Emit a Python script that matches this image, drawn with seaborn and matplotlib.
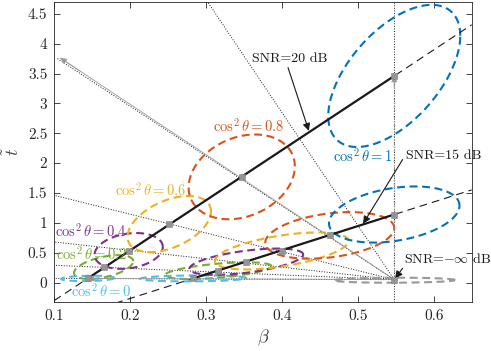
import numpy as np
import pandas as pd
import matplotlib
matplotlib.use('Agg')
import matplotlib.pyplot as plt
import matplotlib.ticker as mtick
import seaborn as sns

# cos^2(theta) levels and their colours
cos2_levels = [0, 0.2, 0.4, 0.6, 0.8, 1]
cos2_colors = ['#4DBEEE', '#77AC30', '#7E2F8E', '#EDB120', '#D95319', '#0072BD']

# operating points (one per cos^2 level)
beta_20 = [0.144, 0.165, 0.198, 0.2515, 0.347, 0.548]
t_20 = [0.07, 0.26, 0.53, 0.98, 1.77, 3.46]
beta_15 = [0.283, 0.316, 0.353, 0.3996, 0.463, 0.548]
t_15 = [0.07, 0.20, 0.35, 0.53, 0.79, 1.14]
beta_inf = 0.548
t_inf = 0.05

# ellipse half-widths (beta), half-heights (t) and tilt phase
ell20_wb = [0.035, 0.039, 0.045, 0.055, 0.070, 0.087]
ell20_wt = [0.045, 0.20, 0.30, 0.47, 0.71, 1.19]
ell20_ph = [1.40, 1.06, 1.35, 1.10, 1.32, 0.97]
ell15_wb = [0.070, 0.070, 0.075, 0.088, 0.085, 0.086]
ell15_wt = [0.05, 0.14, 0.22, 0.31, 0.39, 0.47]
ell15_ph = [1.45, 1.00, 1.00, 1.00, 1.25, 1.25]
ellinf_wb, ellinf_wt, ellinf_ph = 0.080, 0.042, 1.5

# far ends of the dotted constant-theta lines
guide_beta = [0.100, 0.100, 0.100, 0.100, 0.103, 0.302]
guide_t = [0.07, 0.29, 0.68, 1.46, 3.76, 4.70]
arrow08_beta, arrow08_t = 0.108, 3.76

sns.set_theme(style='ticks')
plt.rcParams['font.family'] = ['cmr10', 'DejaVu Serif']
plt.rcParams['mathtext.fontset'] = 'cm'
plt.rcParams['axes.formatter.use_mathtext'] = True

XLIM = (0.1, 0.65)
YLIM = (-0.33, 4.70)
gris = '0.6'


def ellipse(cb, ct, wb, wt, ph, n=240):
    s = np.linspace(0, 2 * np.pi, n)
    return pd.DataFrame({'beta': cb + wb * np.cos(s), 't': ct + wt * np.cos(s - ph)})


def seg(b, t):
    return pd.DataFrame({'beta': b, 't': t})


fig = plt.figure(figsize=(4.91, 3.51), dpi=100)
ax = fig.add_axes([0.1106, 0.1387, 0.850, 0.856])

# dotted constant-theta lines
for gb, gt in zip(guide_beta, guide_t):
    sns.lineplot(data=seg([beta_inf, gb], [t_inf, gt]), x='beta', y='t', sort=False,
                 estimator=None, color='k', lw=0.7, linestyle=':', ax=ax, legend=False)
ax.axvline(beta_inf, color='k', lw=0.7, linestyle=':')

# dashed ellipses
for i, c in enumerate(cos2_colors):
    e = ellipse(beta_20[i], t_20[i], ell20_wb[i], ell20_wt[i], ell20_ph[i])
    sns.lineplot(data=e, x='beta', y='t', sort=False, estimator=None, color=c,
                 lw=1.5, linestyle=(0, (3.8, 2.2)), ax=ax, legend=False)
    e = ellipse(beta_15[i], t_15[i], ell15_wb[i], ell15_wt[i], ell15_ph[i])
    sns.lineplot(data=e, x='beta', y='t', sort=False, estimator=None, color=c,
                 lw=1.5, linestyle=(0, (3.8, 2.2)), ax=ax, legend=False)
e = ellipse(beta_inf, t_inf - 0.01, ellinf_wb, ellinf_wt, ellinf_ph)
sns.lineplot(data=e, x='beta', y='t', sort=False, estimator=None, color='0.6',
             lw=1.5, linestyle=(0, (3.8, 2.2)), ax=ax, legend=False)

# SNR lines: dashed extension + solid segment
for bb, tt in [(beta_20, t_20), (beta_15, t_15)]:
    pente = (tt[-1] - tt[0]) / (bb[-1] - bb[0])
    xs = np.array(XLIM)
    ys = tt[0] + pente * (xs - bb[0])
    sns.lineplot(data=seg(xs, ys), x='beta', y='t', sort=False, estimator=None,
                 color='k', lw=0.8, linestyle=(0, (7, 4.5)), ax=ax, legend=False)
    sns.lineplot(data=seg([bb[0], bb[-1]], [tt[0], tt[-1]]), x='beta', y='t', sort=False,
                 estimator=None, color='k', lw=1.6, ax=ax, legend=False)

# gray arrows from the SNR=-inf point
fleches = [(beta_20[0], t_20[0], '-'), (arrow08_beta, arrow08_t, '-'), (beta_20[-1], t_20[-1], ':')]
for fb, ft, ls in fleches:
    sns.lineplot(data=seg([beta_inf, fb], [t_inf, ft]), x='beta', y='t', sort=False,
                 estimator=None, color=gris, lw=1.0 if ls == ':' else 0.6, linestyle=ls,
                 ax=ax, legend=False)
    ax.annotate('', xy=(fb, ft), xytext=(fb - 0.06 * (fb - beta_inf), ft - 0.06 * (ft - t_inf)),
                arrowprops=dict(arrowstyle='-|>', color=gris, lw=0.6, mutation_scale=9,
                                shrinkA=0, shrinkB=0), zorder=6)

# markers
pts = pd.DataFrame({'beta': beta_20 + beta_15 + [beta_inf], 't': t_20 + t_15 + [t_inf]})
sns.scatterplot(data=pts, x='beta', y='t', marker='s', s=16, color='0.58',
                edgecolor='0.5', linewidth=0.4, ax=ax, zorder=7, legend=False)

# SNR annotations
kw_fl = dict(arrowstyle='-|>', color='k', lw=0.8, mutation_scale=11, shrinkA=0, shrinkB=1)
ax.text(0.361, 3.74, 'SNR=20 dB', fontsize=10, ha='left', va='center', color='0.1')
ax.annotate('', xy=(0.436, np.interp(0.436, beta_20, t_20)), xytext=(0.408, 3.60), arrowprops=kw_fl)
ax.text(0.563, 2.125, 'SNR=15 dB', fontsize=10, ha='left', va='center', color='0.1')
ax.annotate('', xy=(0.506, np.interp(0.506, beta_15, t_15)), xytext=(0.559, 2.06), arrowprops=kw_fl)
ax.text(0.561, 0.40, r'SNR=$-\infty$ dB', fontsize=10, ha='left', va='center', color='0.1')
ax.annotate('', xy=(beta_inf, t_inf), xytext=(0.559, 0.24), arrowprops=kw_fl)

# cos^2 theta labels
lab_beta = [0.122, 0.102, 0.101, 0.180, 0.309, 0.467]
lab_t = [-0.14, 0.49, 0.875, 1.55, 2.625, 2.125]
for lv, c, lb, lt in zip(cos2_levels, cos2_colors, lab_beta, lab_t):
    ax.text(lb, lt, r'$\cos^2\theta=%g$' % lv, color=c, fontsize=10.5, ha='left', va='center')

ax.set_xlim(*XLIM)
ax.set_ylim(*YLIM)
ax.set_xticks([0.1, 0.2, 0.3, 0.4, 0.5, 0.6])
ax.set_yticks(np.arange(0, 4.51, 0.5))
ax.xaxis.set_major_formatter(mtick.FuncFormatter(lambda v, p: '%g' % round(v, 2)))
ax.yaxis.set_major_formatter(mtick.FuncFormatter(lambda v, p: '%g' % round(v, 2)))
ax.tick_params(direction='in', top=True, right=True, length=4, width=0.6,
               labelsize=11, colors='0.15', pad=5)
for sp in ax.spines.values():
    sp.set_visible(True)
    sp.set_linewidth(0.6)
    sp.set_color('0.15')
ax.set_xlabel(r'$\beta$', fontsize=13, color='0.25', labelpad=3)
ax.set_ylabel(r'$\tilde{t}$', fontsize=13, color='0.25', labelpad=4)

fig.savefig('out.png', dpi=100)
